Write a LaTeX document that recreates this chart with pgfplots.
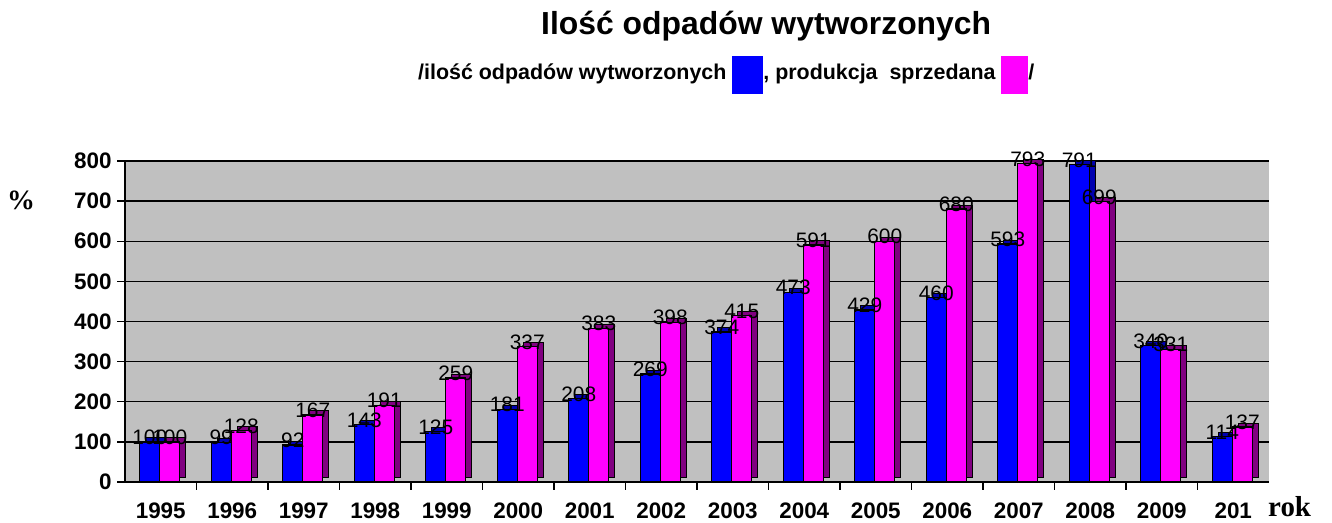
\documentclass[border=0pt]{standalone}
\usepackage{pgfplots}
\pgfplotsset{compat=1.18}
\usepackage{fontspec}
\setmainfont{Liberation Sans}
\newfontfamily\serifb{Liberation Serif}
\definecolor{wall}{HTML}{C0C0C0}
\definecolor{bblue}{HTML}{0000FF}
\definecolor{bmag}{HTML}{FF00FF}
\definecolor{bpurp}{HTML}{800080}
\definecolor{bnavy}{HTML}{0000B0}
\begin{document}
\begin{tikzpicture}[x=1bp,y=1bp]
\path (0,0) rectangle (1332,523);
\begin{axis}[
  at={(125bp,41bp)}, anchor=south west,
  scale only axis, width=1144bp, height=321bp,
  xmin=-0.5, xmax=15.5, ymin=0, ymax=800,
  ybar, bar width=20bp,
  clip=false,
  axis background/.style={fill=wall},
  axis x line*=bottom, axis y line*=left,
  axis line style={line width=1.3bp, black, -},
  ymajorgrids, grid style={line width=1.3bp, black},
  ytick={0,100,...,800},
  xtick={0.5,1.5,...,14.5}, xticklabels={},
  extra x ticks={0,...,15},
  extra x tick labels={1995,1996,1997,1998,1999,2000,2001,2002,2003,2004,2005,2006,2007,2008,2009,201},
  extra x tick style={major tick length=0pt, grid=none},
  tick align=outside, major tick length=8bp,
  tick style={line width=1.3bp, black},
  /pgf/number format/assume math mode=true,
  tick label style={font=\fontsize{22.5}{26}\selectfont\bfseries},
  yticklabel style={xshift=-2bp},
  xticklabel style={anchor=north, yshift=-17bp},
  every node near coord/.append style={font=\fontsize{21}{24}\selectfont, anchor=south, inner sep=0pt, yshift=-3bp, /pgf/number format/assume math mode=true},
]
% blue depth
\addplot[fill=bnavy, draw=black, line width=1bp, bar shift=-5bp, yshift=4bp] coordinates {
(0,100) (1,99) (2,92) (3,143) (4,125) (5,181) (6,208) (7,269) (8,374) (9,473) (10,429) (11,460) (12,593) (13,791) (14,340) (15,114)};
% blue front
\addplot[fill=bblue, draw=black, line width=1.3bp, bar shift=-11bp] coordinates {
(0,100) (1,99) (2,92) (3,143) (4,125) (5,181) (6,208) (7,269) (8,374) (9,473) (10,429) (11,460) (12,593) (13,791) (14,340) (15,114)};
% magenta depth
\addplot[fill=bpurp, draw=black, line width=1bp, bar shift=15bp, yshift=4bp] coordinates {
(0,100) (1,128) (2,167) (3,191) (4,259) (5,337) (6,383) (7,398) (8,415) (9,591) (10,600) (11,680) (12,793) (13,699) (14,331) (15,137)};
% magenta front
\addplot[fill=bmag, draw=black, line width=1.3bp, bar shift=9bp] coordinates {
(0,100) (1,128) (2,167) (3,191) (4,259) (5,337) (6,383) (7,398) (8,415) (9,591) (10,600) (11,680) (12,793) (13,699) (14,331) (15,137)};
% labels
\addplot[draw=none, fill=none, bar shift=-11bp, nodes near coords] coordinates {
(0,100) (1,99) (2,92) (3,143) (4,125) (5,181) (6,208) (7,269) (8,374) (9,473) (10,429) (11,460) (12,593) (13,791) (14,340) (15,114)};
\addplot[draw=none, fill=none, bar shift=9bp, nodes near coords] coordinates {
(0,100) (1,128) (2,167) (3,191) (4,259) (5,337) (6,383) (7,398) (8,415) (9,591) (10,600) (11,680) (12,793) (13,699) (14,331) (15,137)};
\end{axis}
\node[anchor=base west, inner sep=0pt, font=\fontsize{32}{36}\selectfont\bfseries] at (541,488) {Ilość odpadów wytworzonych};
\node[anchor=base west, inner sep=0pt, font=\fontsize{21.5}{25}\selectfont\bfseries] at (418,443)
 {/ilość odpadów wytworzonych \textcolor{bblue}{\rule[-14bp]{31bp}{38bp}}, produkcja\ \ sprzedana \textcolor{bmag}{\rule[-14bp]{27bp}{38bp}}/};
\node[anchor=center, inner sep=0pt, font=\fontsize{28}{32}\selectfont\serifb\bfseries] at (21,323) {\%};
\node[anchor=base west, inner sep=0pt, font=\fontsize{29}{33}\selectfont\serifb\bfseries] at (1268,6) {rok};
\end{tikzpicture}
\end{document}
